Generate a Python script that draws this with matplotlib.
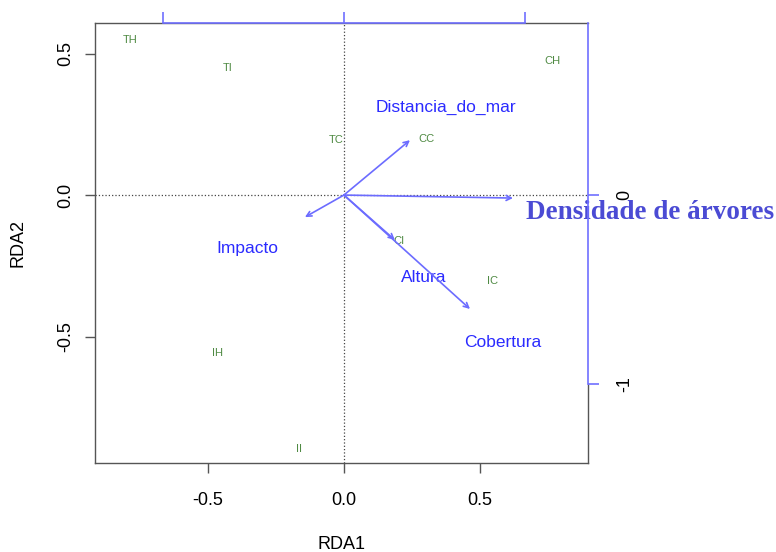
import matplotlib.pyplot as plt
import numpy as np

plt.rcParams['font.family'] = ['Liberation Sans', 'DejaVu Sans']

# site scores (RDA1, RDA2)
sites = ['TH', 'TI', 'CH', 'TC', 'CC', 'CI', 'IC', 'IH', 'II']
site_x = [-0.787, -0.426, 0.765, -0.029, 0.305, 0.202, 0.548, -0.463, -0.165]
site_y = [0.548, 0.449, 0.473, 0.194, 0.198, -0.163, -0.304, -0.558, -0.898]

# biplot arrows (in the scale of the top/right axes)
vars_ = ['Distancia_do_mar', 'Impacto', 'Densidade de árvores', 'Altura', 'Cobertura']
arr_x = [0.364, -0.215, 0.932, 0.281, 0.695]
arr_y = [0.291, -0.117, -0.016, -0.238, -0.604]
lab_x = [0.563, -0.535, 1.688, 0.441, 0.877]
lab_y = [0.466, -0.281, -0.090, -0.435, -0.779]

mul = 1.5
xlim = (-0.915, 0.897)
ylim = (-0.947, 0.608)

fig = plt.figure(figsize=(7.76, 5.52), dpi=100)
ax = fig.add_axes([0.1224, 0.1612, 0.6353, 0.7971])
ax.set_xlim(xlim)
ax.set_ylim(ylim)

for s in ax.spines.values():
    s.set_color('#555555')
    s.set_linewidth(1.0)
ax.spines['right'].set_bounds(ylim[0], -1 / mul)

ax.axhline(0, color='#444444', ls=':', lw=0.9)
ax.axvline(0, color='#444444', ls=':', lw=0.9)

for lab, x, y in zip(sites, site_x, site_y):
    ax.text(x, y, lab, color='#4f8a43', fontsize=8, ha='center', va='center')

for i, v in enumerate(vars_):
    ax.annotate('', xy=(arr_x[i] / mul, arr_y[i] / mul), xytext=(0, 0),
                arrowprops=dict(arrowstyle='->', color='#6c6cff', lw=1.2,
                                shrinkA=0, shrinkB=0, mutation_scale=9))
    if v == 'Densidade de árvores':
        ax.text(lab_x[i] / mul, lab_y[i] / mul, v, color='#4b4bd4', fontsize=19.5,
                fontweight='bold', family=['Liberation Serif', 'DejaVu Serif'],
                ha='center', va='center', clip_on=False)
    else:
        ax.text(lab_x[i] / mul, lab_y[i] / mul, v, color='#2b2bff', fontsize=12.5,
                ha='center', va='center')

ax.set_xticks([-0.5, 0.0, 0.5])
ax.set_yticks([-0.5, 0.0, 0.5])
ax.set_xticklabels(['-0.5', '0.0', '0.5'])
ax.set_yticklabels(['-0.5', '0.0', '0.5'], rotation=90, va='center')
ax.tick_params(axis='x', length=7, width=1, color='#555555', labelsize=13, pad=14)
ax.tick_params(axis='y', length=7, width=1, color='#555555', labelsize=13, pad=8)
ax.set_xlabel('RDA1', fontsize=13, labelpad=19)
ax.set_ylabel('RDA2', fontsize=13, labelpad=22)

blue = '#7070ff'
secx = ax.secondary_xaxis('top', functions=(lambda x: x * mul, lambda x: x / mul))
secx.set_zorder(5)
secx.set_xticks([-1, 0, 1])
secx.set_xticklabels(['', '', ''])
secx.tick_params(axis='x', color=blue, length=8, width=1.2)
secx.spines['top'].set_color(blue)
secx.spines['top'].set_linewidth(1.2)
secx.spines['top'].set_bounds(-1, 1)

secy = ax.secondary_yaxis('right', functions=(lambda y: y * mul, lambda y: y / mul))
secy.set_zorder(5)
secy.set_yticks([-1, 0])
secy.set_yticklabels(['-1', '0'], rotation=90, va='center')
secy.tick_params(axis='y', color=blue, length=8, width=1.2, labelsize=13, pad=12)
secy.spines['right'].set_color(blue)
secy.spines['right'].set_linewidth(1.2)
secy.spines['right'].set_bounds(-1, ylim[1] * mul)

fig.savefig('out.png', dpi=100)
